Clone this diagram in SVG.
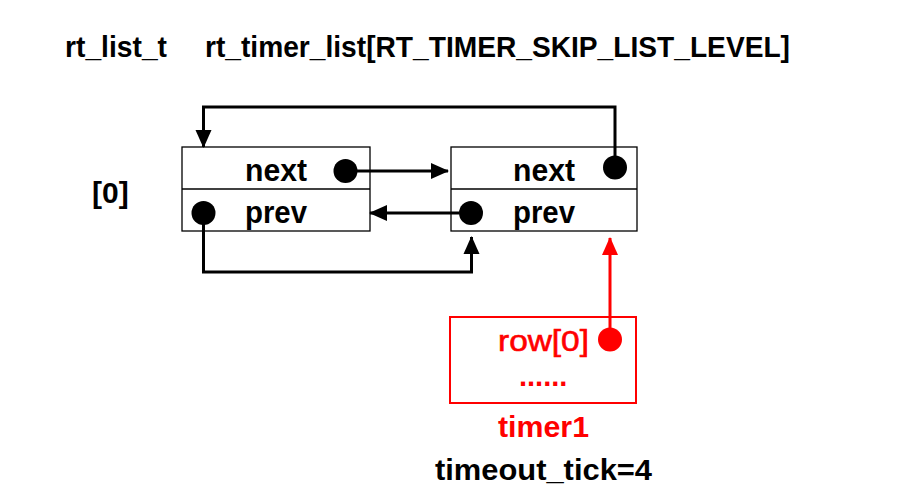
<svg xmlns="http://www.w3.org/2000/svg" width="901" height="499" viewBox="0 0 901 499">
<defs>
<marker id="ah" markerUnits="userSpaceOnUse" markerWidth="18" markerHeight="18" viewBox="0 0 18 16" refX="17" refY="8" orient="auto"><path d="M0,0 L18,8 L0,16 Z" fill="#000"/></marker>
<marker id="ahr" markerUnits="userSpaceOnUse" markerWidth="18" markerHeight="18" viewBox="0 0 18 16" refX="17" refY="8" orient="auto"><path d="M0,0 L18,8 L0,16 Z" fill="#ff0000"/></marker>
</defs>
<style>
text{font-family:"Liberation Sans",Arial,sans-serif;font-weight:bold;fill:#000}
.box{fill:#fff;stroke:#000;stroke-width:1.3}
.rbox{fill:#fff;stroke:#ff0000;stroke-width:2}
.dot{fill:#000}
.conn{fill:none;stroke:#000;stroke-width:3;marker-end:url(#ah)}
.rconn{fill:none;stroke:#ff0000;stroke-width:3;marker-end:url(#ahr)}
.red{fill:#ff0000}
</style>
<rect width="901" height="499" fill="#fff"/>
<g id="title">
<text x="65" y="57" font-size="29" textLength="102" lengthAdjust="spacingAndGlyphs">rt_list_t</text>
<text x="205" y="57" font-size="29" textLength="585" lengthAdjust="spacingAndGlyphs">rt_timer_list[RT_TIMER_SKIP_LIST_LEVEL]</text>
</g>
<g id="index0"><text x="92" y="203" font-size="30">[0]</text></g>
<g id="node1">
<rect class="box" x="182" y="147" width="188" height="84"/>
<line x1="182" y1="189" x2="370" y2="189" stroke="#000" stroke-width="1.3"/>
<text x="245" y="181" font-size="31" textLength="62" lengthAdjust="spacingAndGlyphs">next</text>
<text x="245" y="223" font-size="31" textLength="62" lengthAdjust="spacingAndGlyphs">prev</text>
<circle class="dot" cx="345.5" cy="171" r="12"/>
<circle class="dot" cx="203.5" cy="213" r="12"/>
</g>
<g id="node2">
<rect class="box" x="451" y="147" width="186" height="84"/>
<line x1="451" y1="189" x2="637" y2="189" stroke="#000" stroke-width="1.3"/>
<text x="513" y="181" font-size="31" textLength="62" lengthAdjust="spacingAndGlyphs">next</text>
<text x="513" y="223" font-size="31" textLength="62" lengthAdjust="spacingAndGlyphs">prev</text>
<circle class="dot" cx="615" cy="167.5" r="12"/>
<circle class="dot" cx="471" cy="213" r="12"/>
</g>
<g id="timer1">
<rect class="rbox" x="450" y="317" width="186" height="86"/>
<text class="red" x="498" y="351" font-size="29" style="font-weight:normal;stroke:#ff0000;stroke-width:0.6" textLength="91" lengthAdjust="spacingAndGlyphs">row[0]</text>
<text class="red" x="519" y="386" font-size="29">......</text>
<circle cx="610" cy="339.5" r="12" fill="#ff0000"/>
<text class="red" x="498" y="437" font-size="30" textLength="91" lengthAdjust="spacingAndGlyphs">timer1</text>
<text x="435" y="480" font-size="30" textLength="217" lengthAdjust="spacingAndGlyphs">timeout_tick=4</text>
</g>
<g id="connectors">
<path class="conn" d="M615,167 V107 H203.5 V147"/>
<path class="conn" d="M357,171 H448"/>
<path class="conn" d="M459,213 H370"/>
<path class="conn" d="M203.5,213 V272 H471.5 V237"/>
<path class="rconn" d="M610,339 V238"/>
</g>
</svg>
